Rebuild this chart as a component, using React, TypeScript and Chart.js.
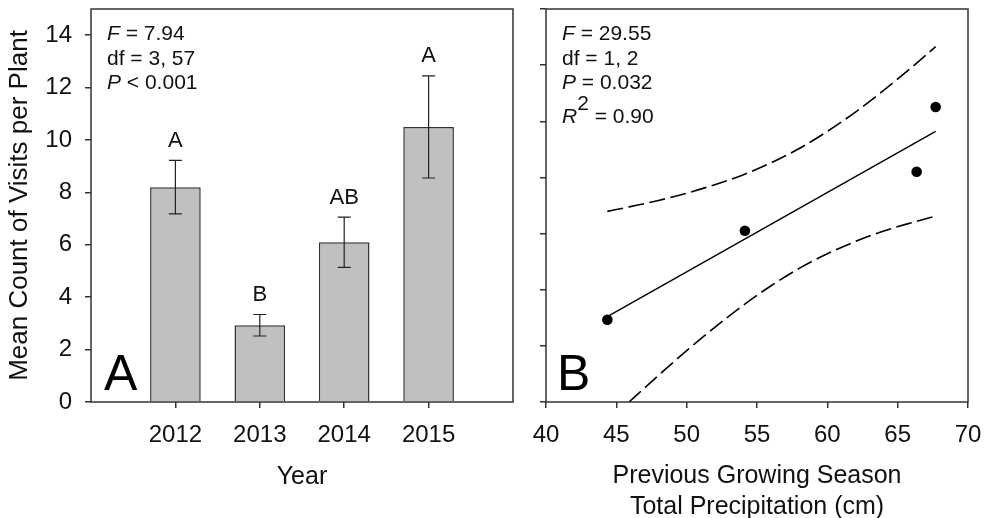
import React, { useEffect, useRef } from 'react';
import { Chart, registerables } from 'chart.js';

Chart.register(...registerables);

const FONT = '"Liberation Sans", Arial, Helvetica, sans-serif';
const INK = '#111';
const LINE = '#333';

// ---- Panel A data ----
const years = [2012, 2013, 2014, 2015];
const meanVisits = [8.2, 2.93, 6.1, 10.5];
const seVisits = [1.02, 0.41, 0.96, 1.95];
const groupLetters = ['A', 'B', 'AB', 'A'];
const visitTicks = [0, 2, 4, 6, 8, 10, 12, 14];

// ---- Panel B data ----
const precip = [44.36, 54.14, 66.35, 67.7];
const visitsByPrecip = [2.93, 6.1, 8.2, 10.51];
const fitX = [44.36, 67.7];
const fitY = [3.04, 9.64];
const upperX = [44.36, 46, 48, 50, 52, 54, 56, 58, 60, 62, 64, 66, 67.7];
const upperY = [6.79, 6.96, 7.18, 7.44, 7.74, 8.09, 8.52, 9.03, 9.64, 10.33, 11.1, 11.92, 12.66];
const lowerX = [45.9, 48, 50, 52, 54, 56, 58, 60, 62, 64, 66, 67.7];
const lowerY = [0, 0.95, 1.83, 2.66, 3.44, 4.14, 4.76, 5.28, 5.72, 6.09, 6.39, 6.62];
const precipTicks = [40, 45, 50, 55, 60, 65, 70];

type Seg = { t: string; italic?: boolean; sup?: boolean };
const statsBars: Seg[][] = [
  [{ t: 'F', italic: true }, { t: ' = 7.94' }],
  [{ t: 'df = 3, 57' }],
  [{ t: 'P', italic: true }, { t: ' < 0.001' }],
];
const statsFit: Seg[][] = [
  [{ t: 'F', italic: true }, { t: ' = 29.55' }],
  [{ t: 'df = 1, 2' }],
  [{ t: 'P', italic: true }, { t: ' = 0.032' }],
  [{ t: 'R', italic: true }, { t: '2', sup: true }, { t: ' = 0.90' }],
];
const statsBaselines = [30.5, 55.5, 80, 113.7];

const pts = (xs: number[], ys: number[]) => xs.map((x, i) => ({ x, y: ys[i] }));

const boxPlugin = {
  id: 'box',
  afterDatasetsDraw(chart: any) {
    const { ctx, chartArea: a } = chart;
    ctx.save();
    ctx.strokeStyle = LINE;
    ctx.lineWidth = 1.5;
    ctx.strokeRect(a.left, a.top, a.right - a.left, a.bottom - a.top);
    ctx.restore();
  },
};

function drawStats(ctx: CanvasRenderingContext2D, x0: number, top: number, lines: Seg[][]) {
  ctx.save();
  ctx.fillStyle = INK;
  ctx.textBaseline = 'alphabetic';
  ctx.textAlign = 'left';
  lines.forEach((segs, li) => {
    let x = x0;
    const y = top + statsBaselines[li];
    segs.forEach((s) => {
      ctx.font = `${s.italic ? 'italic ' : ''}21px ${FONT}`;
      ctx.fillText(s.t, x, s.sup ? y - 12.7 : y);
      x += ctx.measureText(s.t).width;
    });
  });
  ctx.restore();
}

function panelLetter(ctx: CanvasRenderingContext2D, text: string, x: number, y: number) {
  ctx.save();
  ctx.fillStyle = '#000';
  ctx.font = `50px ${FONT}`;
  ctx.textBaseline = 'alphabetic';
  ctx.textAlign = 'left';
  ctx.fillText(text, x, y);
  ctx.restore();
}

const barExtrasPlugin = {
  id: 'barExtras',
  afterDatasetsDraw(chart: any) {
    const { ctx, scales } = chart;
    const xs = scales.x;
    const ys = scales.y;
    ctx.save();
    ctx.strokeStyle = '#222';
    ctx.lineWidth = 1.2;
    years.forEach((yr, i) => {
      const px = xs.getPixelForValue(yr);
      const hi = ys.getPixelForValue(meanVisits[i] + seVisits[i]);
      const lo = ys.getPixelForValue(meanVisits[i] - seVisits[i]);
      ctx.beginPath();
      ctx.moveTo(px, hi);
      ctx.lineTo(px, lo);
      ctx.moveTo(px - 6.5, hi);
      ctx.lineTo(px + 6.5, hi);
      ctx.moveTo(px - 6.5, lo);
      ctx.lineTo(px + 6.5, lo);
      ctx.stroke();
    });
    ctx.fillStyle = INK;
    ctx.font = `22px ${FONT}`;
    ctx.textAlign = 'center';
    ctx.textBaseline = 'alphabetic';
    years.forEach((yr, i) => {
      const px = xs.getPixelForValue(yr);
      const hi = ys.getPixelForValue(meanVisits[i] + seVisits[i]);
      ctx.fillText(groupLetters[i], px, hi - 13.5);
    });
    ctx.restore();
  },
  afterDraw(chart: any) {
    const { ctx, chartArea: a } = chart;
    drawStats(ctx, a.left + 16, a.top, statsBars);
    panelLetter(ctx, 'A', a.left + 13, a.bottom - 12);
  },
};

const fitExtrasPlugin = {
  id: 'fitExtras',
  afterDraw(chart: any) {
    const { ctx, chartArea: a } = chart;
    drawStats(ctx, a.left + 16, a.top, statsFit);
    panelLetter(ctx, 'B', a.left + 11, a.bottom - 12);
  },
};

const tickFont = { family: FONT, size: 24 };
const titleFont = { family: FONT, size: 25, lineHeight: 1.24 };
const tickGrid = {
  display: true,
  drawOnChartArea: false,
  drawTicks: true,
  tickLength: 6,
  color: LINE,
  lineWidth: 1.5,
  offset: false,
};

const fixX = (h: number) => (s: any) => {
  s.height = h;
  s.paddingLeft = 0;
  s.paddingRight = 0;
  s.paddingTop = 0;
  s.paddingBottom = 0;
};
const fixY = (w: number) => (s: any) => {
  s.width = w;
  s.paddingLeft = 0;
  s.paddingRight = 0;
  s.paddingTop = 0;
  s.paddingBottom = 0;
};

function leftConfig(): any {
  return {
    type: 'bar',
    data: {
      datasets: [
        {
          data: pts(years, meanVisits),
          backgroundColor: '#c0c0c0',
          borderColor: LINE,
          borderWidth: 1.5,
          categoryPercentage: 1,
          barPercentage: 0.6,
        },
      ],
    },
    options: {
      responsive: false,
      animation: false,
      devicePixelRatio: 1,
      layout: { padding: { top: 9, right: 7, left: 0, bottom: 0 } },
      plugins: { legend: { display: false }, tooltip: { enabled: false } },
      scales: {
        x: {
          type: 'linear',
          min: 2011,
          max: 2016,
          offset: false,
          grid: tickGrid,
          border: { display: false },
          afterBuildTicks: (s: any) => {
            s.ticks = years.map((v) => ({ value: v }));
          },
          ticks: {
            font: tickFont,
            color: INK,
            padding: 13,
            maxRotation: 0,
            autoSkip: false,
            callback: (v: any) => String(v),
          },
          title: { display: true, text: 'Year', font: titleFont, color: INK, padding: { top: 0, bottom: 25.5 } },
          afterFit: fixX(116),
        },
        y: {
          type: 'linear',
          min: 0,
          max: 15,
          grid: tickGrid,
          border: { display: false },
          afterBuildTicks: (s: any) => {
            s.ticks = visitTicks.map((v) => ({ value: v }));
          },
          ticks: { font: tickFont, color: INK, padding: 13, callback: (v: any) => String(v) },
          title: {
            display: true,
            text: 'Mean Count of Visits per Plant',
            font: { family: FONT, size: 26, lineHeight: 1.2 },
            color: INK,
            padding: { top: 4, bottom: 0 },
          },
          afterFit: fixY(91),
        },
      },
    },
    plugins: [barExtrasPlugin, boxPlugin],
  };
}

function rightConfig(): any {
  const lineBase = {
    showLine: true,
    pointRadius: 0,
    borderColor: '#000',
    borderWidth: 1.4,
    fill: false,
  };
  return {
    type: 'scatter',
    data: {
      datasets: [
        {
          data: pts(precip, visitsByPrecip),
          pointRadius: 5.3,
          backgroundColor: '#000',
          borderColor: '#000',
          borderWidth: 0,
          showLine: false,
        },
        { ...lineBase, data: pts(fitX, fitY) },
        { ...lineBase, data: pts(upperX, upperY), borderWidth: 1.6, borderDash: [16, 5.5], cubicInterpolationMode: 'monotone' },
        { ...lineBase, data: pts(lowerX, lowerY), borderWidth: 1.6, borderDash: [16, 5.5], cubicInterpolationMode: 'monotone' },
      ],
    },
    options: {
      responsive: false,
      animation: false,
      devicePixelRatio: 1,
      layout: { padding: { top: 9, right: 20, left: 0, bottom: 0 } },
      plugins: { legend: { display: false }, tooltip: { enabled: false } },
      scales: {
        x: {
          type: 'linear',
          min: 40,
          max: 70,
          grid: tickGrid,
          border: { display: false },
          afterBuildTicks: (s: any) => {
            s.ticks = precipTicks.map((v) => ({ value: v }));
          },
          ticks: {
            font: tickFont,
            color: INK,
            padding: 13,
            maxRotation: 0,
            autoSkip: false,
            callback: (v: any) => String(v),
          },
          title: {
            display: true,
            text: ['Previous Growing Season', 'Total Precipitation (cm)'],
            font: titleFont,
            color: INK,
            padding: { top: 0, bottom: -5 },
          },
          afterFit: fixX(116),
        },
        y: {
          type: 'linear',
          min: 0,
          max: 14,
          grid: tickGrid,
          border: { display: false },
          afterBuildTicks: (s: any) => {
            s.ticks = visitTicks.map((v) => ({ value: v }));
          },
          ticks: { display: false },
          afterFit: fixY(26),
        },
      },
    },
    plugins: [fitExtrasPlugin, boxPlugin],
  };
}

export default function App() {
  const leftRef = useRef<HTMLCanvasElement>(null);
  const rightRef = useRef<HTMLCanvasElement>(null);
  useEffect(() => {
    const c1 = new Chart(leftRef.current as HTMLCanvasElement, leftConfig());
    const c2 = new Chart(rightRef.current as HTMLCanvasElement, rightConfig());
    return () => {
      c1.destroy();
      c2.destroy();
    };
  }, []);
  return (
    <div
      style={{
        position: 'fixed',
        left: 0,
        top: 0,
        width: 988,
        height: 518,
        background: '#fff',
        overflow: 'hidden',
      }}
    >
      <canvas ref={leftRef} width={520} height={518} style={{ position: 'absolute', left: 0, top: 0 }} />
      <canvas ref={rightRef} width={468} height={518} style={{ position: 'absolute', left: 520, top: 0 }} />
    </div>
  );
}
